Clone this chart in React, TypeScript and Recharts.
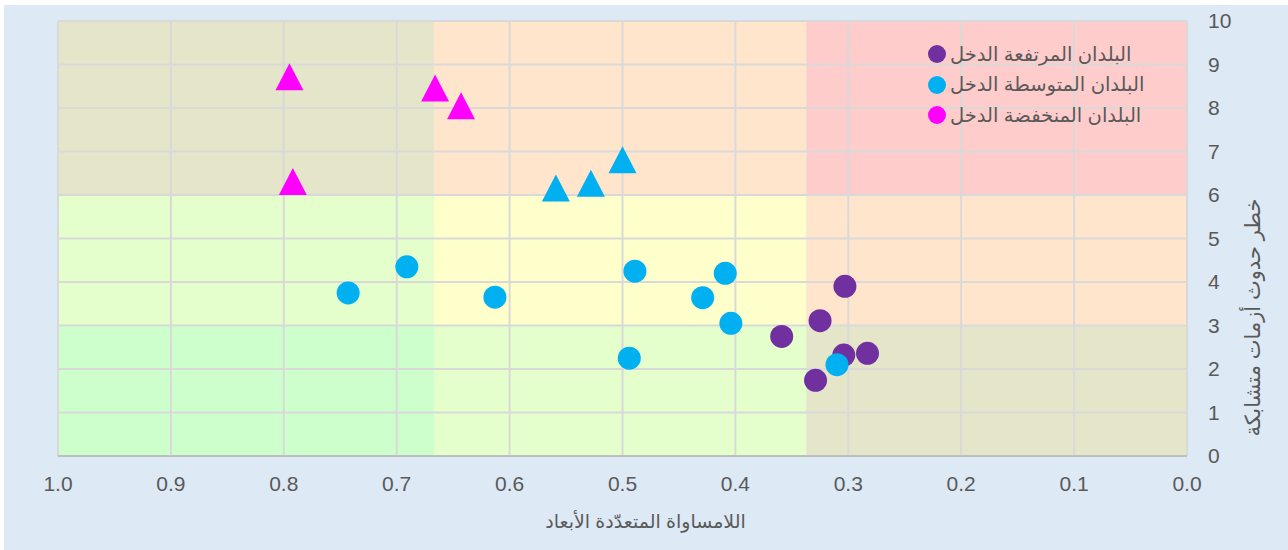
import React from 'react';
import { ScatterChart, Scatter, XAxis, YAxis, ReferenceArea, ReferenceLine } from 'recharts';

// ---- data ----
const highX = [0.359, 0.325, 0.329, 0.303, 0.304, 0.283];
const highY = [2.75, 3.11, 1.74, 3.9, 2.32, 2.36];
const highMarker = ['circle', 'circle', 'circle', 'circle', 'circle', 'circle'];

const midX = [0.743, 0.691, 0.613, 0.489, 0.494, 0.429, 0.409, 0.404, 0.31, 0.5, 0.528, 0.559];
const midY = [3.75, 4.35, 3.65, 4.25, 2.25, 3.64, 4.2, 3.05, 2.1, 6.81, 6.27, 6.16];
const midMarker = ['circle', 'circle', 'circle', 'circle', 'circle', 'circle', 'circle', 'circle', 'circle', 'triangle', 'triangle', 'triangle'];

const lowX = [0.795, 0.792, 0.666, 0.643];
const lowY = [8.72, 6.31, 8.46, 8.05];
const lowMarker = ['triangle', 'triangle', 'triangle', 'triangle'];

const seriesNames = ['البلدان المرتفعة الدخل', 'البلدان المتوسطة الدخل', 'البلدان المنخفضة الدخل'];
const seriesColors = ['#7030a0', '#00b0f0', '#ff00ff'];

const xTicks = [0, 0.1, 0.2, 0.3, 0.4, 0.5, 0.6, 0.7, 0.8, 0.9, 1.0];
const yTicks = [0, 1, 2, 3, 4, 5, 6, 7, 8, 9, 10];

const xTitle = 'اللامساواة المتعدّدة الأبعاد';
const yTitle = 'خطر حدوث أزمات متشابكة';

// zone edges (x: from left of plot = 1.0 to right = 0.0)
const xZoneEdges = [1, 0.667, 0.337, 0];
const yZoneEdges = [0, 3, 6, 10];
// rows bottom->top, columns left->right
const zoneColors = [
  ['#ccffcc', '#e5ffcc', '#e5e5ca'],
  ['#e5ffcc', '#ffffcc', '#ffe5cc'],
  ['#e5e5ca', '#ffe5cc', '#ffcccc'],
];

const build = (xs: number[], ys: number[], ms: string[]) =>
  xs.map((x, i) => ({ x, y: ys[i], marker: ms[i] }));

const highData = build(highX, highY, highMarker);
const midData = build(midX, midY, midMarker);
const lowData = build(lowX, lowY, lowMarker);

const FONT = '"Liberation Sans", Arial, "DejaVu Sans", sans-serif';
const TEXT = '#595959';
const GRID = '#d9d9d9';

const makeShape = (color: string) => (props: any) => {
  const { cx, cy, payload } = props;
  if (cx == null || cy == null) return <g />;
  if (payload && payload.marker === 'triangle') {
    const w = 28;
    const h = 27;
    const pts = `${cx},${cy - h / 2} ${cx + w / 2},${cy + h / 2} ${cx - w / 2},${cy + h / 2}`;
    return <polygon points={pts} fill={color} />;
  }
  return <circle cx={cx} cy={cy} r={11.5} fill={color} />;
};

const XTitle = (props: any) => {
  const vb = props.viewBox || {};
  const cx = vb.x + vb.width / 2 + 23;
  const cy = vb.y + 67;
  return (
    <text x={cx} y={cy} textAnchor="middle" dominantBaseline="middle" fill={TEXT} fontSize={19} fontFamily={FONT}>
      {xTitle}
    </text>
  );
};

const YTitle = (props: any) => {
  const vb = props.viewBox || {};
  const cx = vb.x + 67;
  const cy = vb.y + vb.height / 2 + 79;
  return (
    <text
      x={cx}
      y={cy}
      textAnchor="middle"
      dominantBaseline="middle"
      fill={TEXT}
      fontSize={21}
      fontFamily={FONT}
      transform={`rotate(-90, ${cx}, ${cy})`}
    >
      {yTitle}
    </text>
  );
};

export default function App() {
  const areas: any[] = [];
  for (let r = 0; r < 3; r++) {
    for (let c = 0; c < 3; c++) {
      areas.push(
        <ReferenceArea
          key={`z${r}${c}`}
          x1={xZoneEdges[c]}
          x2={xZoneEdges[c + 1]}
          y1={yZoneEdges[r]}
          y2={yZoneEdges[r + 1]}
          fill={zoneColors[r][c]}
          fillOpacity={1}
          stroke="none"
          ifOverflow="visible"
        />
      );
    }
  }
  return (
    <div style={{ position: 'absolute', left: 0, top: 0, width: 1288, height: 550, background: '#fff' }}>
      <style>{'body{margin:0}'}</style>
      <div style={{ position: 'absolute', left: 4, top: 5, width: 1284, height: 545, background: '#dde9f5' }}>
        <ScatterChart width={1284} height={545} margin={{ top: 16, left: 54, right: 0, bottom: 0 }}>
          <XAxis
            type="number"
            dataKey="x"
            domain={[0, 1]}
            reversed
            ticks={xTicks}
            interval={0}
            tickFormatter={(v: number) => v.toFixed(1)}
            tick={{ fill: TEXT, fontSize: 21, fontFamily: FONT }}
            tickLine={false}
            tickSize={0}
            tickMargin={20}
            axisLine={{ stroke: '#bfbfbf', strokeWidth: 2 }}
            height={94}
            allowDataOverflow
            label={<XTitle />}
          />
          <YAxis
            type="number"
            dataKey="y"
            orientation="right"
            domain={[0, 10]}
            ticks={yTicks}
            interval={0}
            tick={{ fill: TEXT, fontSize: 21, fontFamily: FONT, textAnchor: 'start' }}
            tickLine={false}
            tickSize={0}
            tickMargin={21}
            axisLine={false}
            width={101}
            allowDataOverflow
            label={<YTitle />}
          />
          {areas}
          {xTicks.map((t) => (
            <ReferenceLine key={`vx${t}`} x={t} stroke={GRID} strokeWidth={2} ifOverflow="visible" />
          ))}
          {yTicks.map((t) => (
            <ReferenceLine key={`hy${t}`} y={t} stroke={GRID} strokeWidth={2} ifOverflow="visible" />
          ))}
          <Scatter name={seriesNames[0]} data={highData} fill={seriesColors[0]} shape={makeShape(seriesColors[0])} isAnimationActive={false} />
          <Scatter name={seriesNames[1]} data={midData} fill={seriesColors[1]} shape={makeShape(seriesColors[1])} isAnimationActive={false} />
          <Scatter name={seriesNames[2]} data={lowData} fill={seriesColors[2]} shape={makeShape(seriesColors[2])} isAnimationActive={false} />
        </ScatterChart>
        <div style={{ position: 'absolute', left: 924, top: 34, fontFamily: FONT, color: TEXT, fontSize: 19.5 }}>
          {seriesNames.map((n, i) => (
            <div key={n} style={{ display: 'flex', alignItems: 'center', height: 30.5 }}>
              <span
                style={{
                  display: 'inline-block',
                  width: 18,
                  height: 18,
                  borderRadius: 9,
                  background: seriesColors[i],
                  marginRight: 4,
                }}
              />
              <span style={{ whiteSpace: 'nowrap' }}>{n}</span>
            </div>
          ))}
        </div>
      </div>
    </div>
  );
}
